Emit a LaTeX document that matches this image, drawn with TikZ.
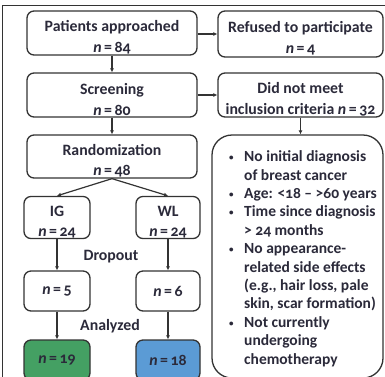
\documentclass[tikz,border=0pt]{standalone}
\usepackage{fontspec}
\setmainfont{Carlito}[Numbers=OldStyle]
\usetikzlibrary{arrows.meta}
\definecolor{txt}{HTML}{2B2A3A}
\definecolor{ln}{HTML}{333333}
\definecolor{grn}{HTML}{44A063}
\definecolor{blu}{HTML}{5B9BD5}
\tikzset{
  box/.style={draw=ln, line width=1.3pt, rounded corners=7pt, fill=white,
    text=txt, font=\bfseries\fontsize{15.8}{20.5}\selectfont, align=center,
    inner sep=0pt},
  arr/.style={draw=ln, line width=1.2pt, -{Latex[length=4pt,width=4pt]}},
  lbl/.style={text=txt, font=\bfseries\fontsize{15.8}{18}\selectfont, inner sep=0pt},
  crit/.style={text=txt, font=\bfseries\fontsize{15.5}{18.4}\selectfont, inner sep=0pt, align=left}
}
\newcommand{\nn}{\textit{n}\,=\,}
\newcommand{\two}[2]{\rule{0pt}{20pt}#1\\#2}
\newcommand{\bul}{\makebox[15pt][l]{\raisebox{1pt}{\fontsize{9}{9}\selectfont•}}}
\newcommand{\ind}{\hspace*{15pt}}
\begin{document}
\begin{tikzpicture}[x=1pt,y=-1pt]
\clip (0,0) rectangle (385,376);
\fill[white] (0,0) rectangle (385,376);
\draw[ln, line width=1.3pt] (2.5,390) -- (2.5,5.5) -- (400,5.5);
\node[box, minimum width=170pt, minimum height=44pt] (pa) at (112,33) {\two{Patients approached}{\nn 84}};
\node[box, minimum width=165pt, minimum height=46pt] (ref) at (300.5,34) {\two{Refused to participate}{\nn 4}};
\node[box, minimum width=170pt, minimum height=44pt] (scr) at (112,95) {\two{Screening}{\nn 80}};
\node[box, minimum width=165pt, minimum height=44pt] (dnm) at (300.5,95) {\two{Did not meet}{inclusion criteria \nn 32}};
\node[box, minimum width=170pt, minimum height=43pt] (rnd) at (112,156.5) {\two{Randomization}{\nn 48}};
\node[box, rounded corners=20pt, minimum width=171pt, minimum height=243pt] (crit) at (297.5,256.5) {};
\node[crit, anchor=north west] (crittext) at (229,150.5) {%
\bul No initial diagnosis\\
\ind of breast cancer\\
\bul Age: <18 – >60 years\\
\bul Time since diagnosis\\
\ind > 24 months\\
\bul No appearance-\\
\ind related side effects\\
\ind (e.g., hair loss, pale\\
\ind skin, scar formation)\\
\bul Not currently\\
\ind undergoing\\
\ind chemotherapy};
\node[box, minimum width=66pt, minimum height=41pt] (ig) at (57,217.5) {\two{IG}{\nn 24}};
\node[box, minimum width=64pt, minimum height=41pt] (wl) at (168,217.5) {\two{WL}{\nn 24}};
\node[box, minimum width=66pt, minimum height=40pt] (d5) at (57,291) {\nn 5};
\node[box, minimum width=64pt, minimum height=40pt] (d6) at (168,291) {\nn 6};
\node[box, fill=grn, minimum width=66pt, minimum height=40pt] (g19) at (57,360) {\nn 19};
\node[box, fill=blu, minimum width=64pt, minimum height=40pt] (b18) at (168,360) {\nn 18};
\node[lbl] (drop) at (111,256.5) {Dropout};
\node[lbl] (anal) at (110,326) {Analyzed};
\draw[arr] (pa) -- (scr);
\draw[arr] (scr) -- (rnd);
\draw[arr] (pa.east |- ref.west) -- (ref.west);
\draw[arr] (scr) -- (dnm);
\draw[arr] (dnm.south) -- (crit.north -| dnm.south);
\draw[arr] (rnd.south) -- (ig.north);
\draw[arr] (rnd.south) -- (wl.north);
\draw[arr] (ig) -- (d5);
\draw[arr] (wl) -- (d6);
\draw[arr] (d5) -- (g19);
\draw[arr] (d6) -- (b18);
\end{tikzpicture}
\end{document}
